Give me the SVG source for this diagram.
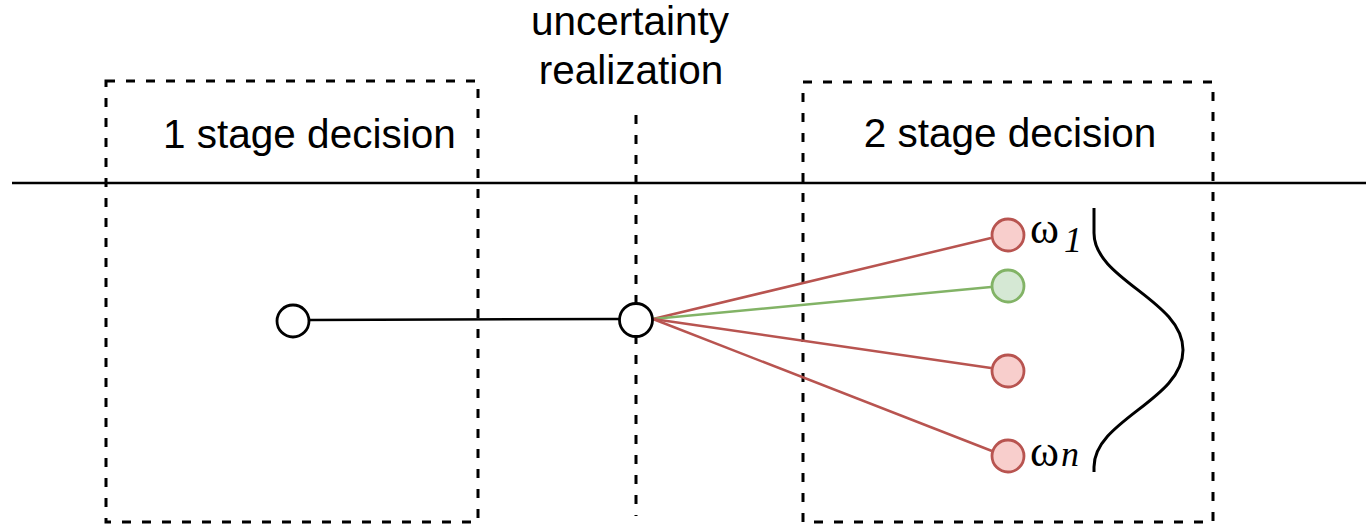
<svg xmlns="http://www.w3.org/2000/svg" width="1366" height="526" viewBox="0 0 1366 526">
<style>
.box{fill:none;stroke:#000;stroke-width:3;stroke-dasharray:9 11}
.lbl{font-family:"Liberation Sans",Arial,sans-serif;font-size:40.5px;fill:#000}
.om{font-family:"Liberation Serif","Times New Roman",serif;font-size:44px;fill:#000}
.it{font-family:"Liberation Serif","Times New Roman",serif;font-style:italic;font-size:36px;fill:#000}
.red{fill:#f8cecc;stroke:#b85450;stroke-width:2.8}
.grn{fill:#d5e8d4;stroke:#82b366;stroke-width:2.8}
.wht{fill:#fff;stroke:#000;stroke-width:2.8}
</style>
<rect width="1366" height="526" fill="#fff"/>
<g id="stage1">
<rect class="box" x="106" y="81" width="372" height="441"/>
<text class="lbl" x="163" y="148">1 stage decision</text>
</g>
<g id="stage2">
<rect class="box" x="803" y="82" width="410" height="440"/>
<text class="lbl" x="1010" y="147" text-anchor="middle">2 stage decision</text>
</g>
<g id="uncertainty">
<text class="lbl" x="630" y="35" text-anchor="middle">uncertainty</text>
<text class="lbl" x="631" y="84" text-anchor="middle">realization</text>
<line x1="636" y1="115" x2="636" y2="516" stroke="#000" stroke-width="3" stroke-dasharray="9 11"/>
</g>
<g id="timeline">
<line x1="12" y1="183" x2="1366" y2="183" stroke="#000" stroke-width="2.5"/>
</g>
<g id="connectors" fill="none" stroke-width="2.5">
<line x1="310" y1="320" x2="619" y2="319" stroke="#000"/>
<line x1="653" y1="319" x2="991" y2="238" stroke="#b85450"/>
<line x1="653" y1="319" x2="991" y2="287" stroke="#82b366"/>
<line x1="653" y1="319" x2="991" y2="368" stroke="#b85450"/>
<line x1="653" y1="319" x2="992" y2="451" stroke="#b85450"/>
</g>
<g id="n0"><circle class="wht" cx="293" cy="321" r="16"/></g>
<g id="n1"><circle class="wht" cx="636" cy="320" r="16.5"/></g>
<g id="w1"><circle class="red" cx="1008" cy="235" r="16"/>
<text class="om" x="1030" y="243">ω</text><text class="it" x="1064" y="252">1</text></g>
<g id="w2"><circle class="grn" cx="1008" cy="286" r="16"/></g>
<g id="w3"><circle class="red" cx="1008" cy="371" r="16"/></g>
<g id="wn"><circle class="red" cx="1008" cy="456" r="16"/>
<text class="om" x="1030" y="466">ω</text><text class="it" x="1061" y="466">n</text></g>
<g id="brace">
<path d="M1094,208 V233 C1094,280 1183,300 1183,350 C1183,400 1094,420 1094,467 V472" fill="none" stroke="#000" stroke-width="3"/>
</g>
</svg>
